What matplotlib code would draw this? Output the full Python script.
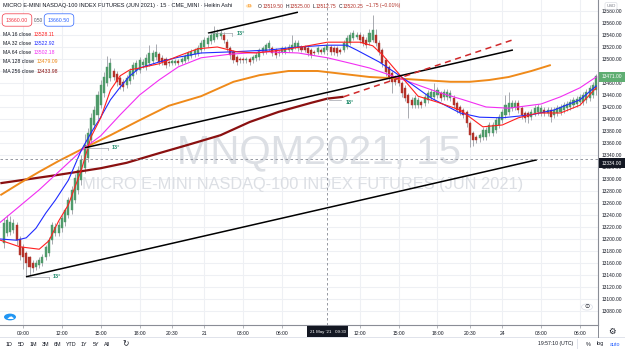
import matplotlib
matplotlib.use("Agg")
import matplotlib.pyplot as plt
from matplotlib.patches import Rectangle, Circle

plt.rcParams['font.family'] = ['Liberation Sans', 'DejaVu Sans']
FONT = ['Liberation Sans', 'DejaVu Sans']

# ---------------- data (Heikin Ashi candles, 15 min bars) ----------------
ha_open = [13193,13210,13212,13215,13223,13200,13187,13177,13170,13160,
           13153,13157,13160,13170,13177,13198,13210,13210,13218,13228,
           13240,13248,13265,13282,13298,13318,13335,13365,13390,13407,
           13423,13443,13460,13468,13480,13475,13468,13462,13457,13463,
           13472,13480,13482,13490,13487,13493,13497,13503,13508,13502,
           13500,13495,13494,13494,13496,13495,13497,13500,13505,13508,
           13510,13515,13520,13525,13530,13532,13537,13538,13540,13528,
           13518,13512,13503,13500,13500,13498,13500,13498,13501,13503,
           13510,13512,13518,13518,13515,13512,13512,13512,13515,13515,
           13520,13518,13520,13520,13518,13515,13512,13512,13515,13512,
           13515,13520,13518,13518,13515,13515,13520,13527,13535,13537,
           13540,13537,13532,13528,13532,13540,13527,13515,13498,13487,
           13477,13470,13470,13460,13452,13440,13432,13423,13423,13428,
           13427,13432,13437,13437,13440,13443,13437,13437,13435,13435,
           13427,13420,13415,13412,13393,13377,13370,13368,13370,13370,
           13377,13377,13382,13390,13398,13407,13412,13418,13420,13427,
           13418,13410,13410,13403,13410,13412,13410,13415,13410,13415,
           13407,13410,13412,13415,13418,13420,13423,13425,13428,13428,
           13432,13435,13440,13448]
ha_close = [13227,13232,13228,13227,13198,13173,13170,13160,13153,13152,
            13160,13165,13170,13187,13198,13223,13220,13223,13235,13248,
            13265,13282,13302,13315,13332,13357,13377,13402,13415,13440,
            13457,13470,13487,13493,13470,13462,13457,13453,13468,13480,
            13490,13493,13498,13495,13502,13510,13510,13512,13495,13495,
            13490,13493,13496,13497,13494,13500,13505,13510,13512,13515,
            13518,13527,13532,13535,13540,13543,13543,13543,13532,13518,
            13507,13498,13495,13498,13498,13500,13495,13503,13507,13515,
            13518,13523,13527,13510,13507,13510,13518,13518,13520,13523,
            13527,13527,13515,13515,13510,13507,13510,13518,13512,13518,
            13523,13512,13512,13510,13512,13527,13535,13540,13543,13540,
            13532,13527,13523,13543,13548,13527,13512,13493,13478,13470,
            13462,13462,13460,13443,13435,13427,13423,13435,13432,13423,
            13437,13443,13445,13445,13448,13435,13445,13445,13443,13423,
            13415,13412,13407,13393,13373,13365,13365,13373,13382,13382,
            13390,13390,13398,13403,13412,13423,13427,13427,13427,13415,
            13407,13402,13403,13412,13418,13420,13418,13410,13415,13403,
            13415,13418,13420,13423,13425,13428,13432,13433,13437,13440,
            13445,13452,13457,13471]
ha_high = [13235,13240,13238,13233,13228,13205,13192,13180,13172,13165,
           13165,13170,13175,13190,13203,13228,13226,13230,13240,13252,
           13270,13288,13308,13322,13340,13375,13385,13410,13422,13447,
           13465,13478,13505,13502,13485,13480,13472,13467,13473,13485,
           13495,13498,13503,13500,13508,13523,13515,13525,13512,13506,
           13504,13498,13500,13500,13500,13504,13509,13514,13516,13519,
           13523,13531,13537,13540,13545,13555,13550,13548,13545,13533,
           13522,13515,13506,13503,13503,13504,13504,13507,13511,13519,
           13522,13527,13531,13522,13518,13515,13522,13522,13525,13540,
           13532,13531,13524,13524,13522,13518,13515,13522,13519,13522,
           13527,13524,13522,13522,13518,13531,13540,13545,13548,13545,
           13545,13541,13536,13550,13573,13550,13532,13518,13502,13490,
           13480,13474,13474,13464,13456,13443,13436,13440,13437,13432,
           13442,13448,13450,13460,13453,13447,13450,13450,13448,13440,
           13430,13423,13418,13415,13396,13380,13373,13377,13387,13387,
           13395,13395,13403,13408,13417,13440,13445,13432,13432,13432,
           13422,13413,13413,13417,13423,13425,13423,13420,13420,13420,
           13420,13423,13425,13428,13430,13433,13437,13438,13442,13445,
           13450,13457,13462,13475]
ha_low = [13185,13205,13206,13210,13190,13165,13150,13137,13140,13145,
          13148,13152,13155,13165,13172,13192,13205,13205,13212,13222,
          13235,13242,13260,13275,13290,13310,13328,13358,13383,13400,
          13418,13437,13455,13463,13465,13455,13450,13447,13452,13458,
          13467,13475,13477,13485,13482,13488,13492,13498,13490,13490,
          13485,13488,13490,13490,13490,13491,13493,13496,13501,13504,
          13505,13510,13515,13520,13525,13528,13533,13534,13527,13513,
          13500,13493,13490,13494,13494,13494,13490,13494,13497,13499,
          13506,13508,13514,13505,13502,13505,13508,13508,13511,13511,
          13516,13514,13511,13511,13505,13502,13506,13508,13508,13508,
          13511,13507,13507,13505,13508,13511,13516,13523,13531,13533,
          13527,13522,13518,13524,13528,13522,13507,13487,13472,13463,
          13443,13457,13455,13437,13430,13402,13418,13418,13418,13418,
          13422,13427,13432,13432,13435,13430,13432,13432,13430,13418,
          13410,13407,13402,13387,13353,13355,13360,13362,13365,13365,
          13372,13372,13377,13385,13393,13402,13407,13413,13415,13410,
          13400,13395,13393,13398,13405,13407,13405,13405,13405,13395,
          13402,13405,13407,13410,13413,13415,13418,13420,13423,13423,
          13427,13430,13435,13440]

# moving averages (bar index, value)
ma16_x = [-1,5,11,14,17,20,24,27,30,33,36,39,42,48,54,60,66,72,78,86,94,100,105,110,114,117,121,125,128,134,141,144,148,154,159,165,172,178,183]
ma16_v = [13198,13187,13183,13197,13230,13257,13315,13370,13402,13448,13472,13482,13485,13492,13505,13517,13520,13512,13510,13515,13522,13528,13528,13528,13522,13507,13482,13457,13438,13428,13415,13403,13387,13390,13402,13410,13410,13423,13452]
ma32_x = [-1,4,7,10,13,16,20,24,27,30,33,36,39,42,48,54,61,71,82,91,100,106,109,116,121,125,132,141,147,154,163,170,178,183]
ma32_v = [13200,13198,13202,13218,13243,13265,13298,13348,13377,13403,13432,13453,13472,13485,13495,13503,13510,13512,13515,13520,13523,13523,13515,13495,13477,13462,13435,13410,13403,13402,13407,13415,13432,13455]
ma64_x = [-1,5,11,17,25,30,36,42,48,54,61,70,81,91,100,107,113,121,134,142,149,156,166,172,178,183]
ma64_v = [13228,13255,13282,13312,13352,13372,13407,13440,13465,13487,13502,13508,13512,13510,13502,13493,13485,13470,13445,13432,13420,13418,13425,13437,13452,13470]
ma128_x = [-1,5,11,17,25,33,42,51,61,71,79,88,97,105,113,120,129,138,144,150,156,163,169]
ma128_v = [13273,13293,13312,13330,13352,13373,13398,13422,13438,13462,13473,13480,13480,13475,13470,13468,13465,13462,13462,13465,13470,13480,13490]
ma256_x = [-1,17,30,38,48,57,67,76,85,95,100,105]
ma256_v = [13293,13307,13318,13327,13343,13357,13373,13395,13412,13427,13434,13437]

# drawn trend-angle lines ((bar, price) endpoints)
trend1 = ([63.1, 90.9], [13543, 13578])
trend2 = ([25.1, 157.3], [13352, 13515])
trend3 = ([6.9, 164.7], [13137, 13332])
trend_dash = ([105.0, 157.3], [13437, 13532])

time_ticks = [6, 18, 30, 42, 52, 62, 74, 86, 110, 122, 134, 144, 154, 166, 178]
time_labels = ["09:00", "12:00", "15:00", "18:00", "20:30", "21", "03:00", "06:00",
               "12:00", "15:00", "18:00", "20:30", "24", "03:00", "06:00"]
price_ticks = [13080, 13100, 13120, 13140, 13160, 13180, 13200, 13220, 13240, 13260,
               13280, 13300, 13320, 13340, 13360, 13380, 13400, 13420, 13440, 13460,
               13480, 13500, 13520, 13540, 13560, 13580]
hidden_price_labels = [13480]

ma_names = ["MA 16 close", "MA 32 close", "MA 64 close", "MA 128 close", "MA 256 close"]
ma_values = ["13528.11", "13522.92", "13502.18", "13479.09", "13433.98"]
ohlc_keys = ["O", "H", "L", "C"]
ohlc_vals = ["13519.50", "13525.00", "13512.75", "13520.25"]
ohlc_change = "−1.75 (−0.01%)"

# ---------------- styling ----------------
GREEN = '#4f9a6a'
RED = '#b3332a'
WICK = '#9a9ca3'
TXT = '#131722'
C16, C32, C64, C128, C256 = '#ff1f1f', '#1f2bff', '#f22ef2', '#ef8a1a', '#8a1010'

W, H = 625, 352
fig = plt.figure(figsize=(W / 100, H / 100), dpi=100)
fig.patch.set_facecolor('white')
renderer = fig.canvas.get_renderer()

def fx(x):
    return x / W

def fy(y):
    return 1 - y / H

def ftext(x, y, s, **kw):
    kw.setdefault('family', FONT)
    kw.setdefault('va', 'center')
    kw.setdefault('zorder', 21)
    return fig.text(fx(x), fy(y), s, **kw)

def right_px(t):
    bb = t.get_window_extent(renderer=renderer)
    return bb.x1

AX_R, AX_B = 598, 325
ax = fig.add_axes([0, 1 - AX_B / H, AX_R / W, AX_B / H])
BAR_X0, BAR_DX = 3.6, 3.238
ax.set_xlim((0 - BAR_X0) / BAR_DX, (AX_R - BAR_X0) / BAR_DX)
ax.set_ylim(13056.7, 13598.3)

# grid / axes
ax.set_axisbelow(True)
ax.set_xticks(time_ticks)
ax.set_xticklabels(time_labels)
ax.set_yticks(price_ticks)
ax.set_yticklabels(["" if p in hidden_price_labels else f"{p:.2f}" for p in price_ticks])
ax.grid(True, color='#eef0f4', lw=0.8)
ax.yaxis.tick_right()
ax.tick_params(axis='y', length=0, pad=2.4, labelsize=3.5, labelcolor=TXT)
ax.tick_params(axis='x', length=2, width=0.5, color='#9598a1', pad=2.3, labelsize=3.6, labelcolor=TXT)
for s in ['top', 'left']:
    ax.spines[s].set_visible(False)
for s in ['right', 'bottom']:
    ax.spines[s].set_color('#8a8d96')
    ax.spines[s].set_linewidth(0.8)

# watermark
ax.text(319 / AX_R, 1 - 152 / AX_B, "MNQM2021, 15", transform=ax.transAxes, fontsize=29,
        color='#dcdfe4', ha='center', va='center', zorder=1)
ax.text(303 / AX_R, 1 - 185 / AX_B, "MICRO E-MINI NASDAQ-100 INDEX FUTURES (JUN 2021)",
        transform=ax.transAxes, fontsize=11.8, color='#dcdfe4', ha='center', va='center', zorder=1)

# candles
n = len(ha_close)
xs = list(range(n))
ax.vlines(xs, ha_low, ha_high, color=WICK, lw=0.6, zorder=3)
bottoms = [min(o, c) for o, c in zip(ha_open, ha_close)]
heights = [abs(c - o) for o, c in zip(ha_open, ha_close)]
colors = [GREEN if c >= o else RED for o, c in zip(ha_open, ha_close)]
ax.bar(xs, heights, bottom=bottoms, width=0.64, color=colors, edgecolor=colors, lw=0.3, zorder=4)

# moving averages
ax.plot(ma256_x, ma256_v, color=C256, lw=1.6, zorder=5, solid_capstyle='butt')
ax.plot(ma128_x, ma128_v, color=C128, lw=1.4, zorder=5, solid_capstyle='butt')
ax.plot(ma64_x, ma64_v, color=C64, lw=0.8, zorder=5)
ax.plot(ma32_x, ma32_v, color=C32, lw=0.8, zorder=5)
ax.plot(ma16_x, ma16_v, color=C16, lw=0.8, zorder=5)

# trend angle drawings
for tx, ty in (trend1, trend2, trend3):
    ax.plot(tx, ty, color='black', lw=1.1, zorder=6, solid_capstyle='butt')
ax.plot(trend_dash[0], trend_dash[1], color='#d0282a', lw=1.1, ls=(0, (4, 3)), zorder=6)
ANG = '#1e8a6a'
for (bx, by, lab, ex) in [(trend1[0][0], trend1[1][0], "13°", 7.5),
                          (trend2[0][0], trend2[1][0], "13°", 7.0),
                          (trend3[0][0], trend3[1][0], "13°", 7.0)]:
    ax.plot([bx, bx + ex], [by, by], color='#a0a3ab', lw=0.5, zorder=6)
    ax.plot([bx + ex, bx + ex], [by, by - 4], color='#a0a3ab', lw=0.5, zorder=6)
    ax.text(bx + ex + 1.3, by, lab, color=ANG, fontsize=4.0, fontweight='bold', va='center', zorder=7)
ax.plot([100.5, 104.2], [13432, 13432], color='#a0a3ab', lw=0.5, zorder=6)
ax.text(105.8, 13427, "18°", color=ANG, fontsize=4.0, fontweight='bold', va='center', zorder=7)

# crosshair
ax.axvline(100, color='#858892', lw=0.6, ls=(0, (3, 3)), zorder=8)
ax.axhline(13334, color='#858892', lw=0.6, ls=(0, (3, 3)), zorder=8)

# ---------------- overlays (labels / boxes) ----------------
def box(x0, y0, x1, y1, fc, ec=None, lw=0):
    fig.add_artist(Rectangle((fx(x0), fy(y1)), (x1 - x0) / W, (y1 - y0) / H, transform=fig.transFigure,
                             fc=fc, ec=ec if ec else fc, lw=lw, zorder=20))

box(599, 72, 625, 82, '#5fae72')
ftext(611.5, 77, "13471.00", color='white', fontsize=3.5, ha='center')
box(599, 158, 625, 168, TXT)
ftext(611.5, 163, "13334.00", color='white', fontsize=3.5, ha='center')
box(307, 326, 348, 337, TXT)
ftext(327.5, 331.5, "21 May '21   09:30", color='white', fontsize=3.2, ha='center')
ftext(611, 6, "USD", color='#787b86', fontsize=3.2, ha='center',
      bbox=dict(boxstyle='round,pad=0.3', fc='white', ec='#d1d4dc', lw=0.4))

# title + OHLC
ftext(3, 6, "MICRO E-MINI NASDAQ-100 INDEX FUTURES (JUN 2021) · 15 · CME_MINI · Heikin Ashi",
      color=TXT, fontsize=4.05, ha='left')
fig.add_artist(Circle((fx(249), fy(6)), 3.2 / W, transform=fig.transFigure, fc='#ffe0b2', ec='none', zorder=20))
ftext(249, 6, "D", color='#f57c00', fontsize=3.2, ha='center')
xpos = 258
for k, v in zip(ohlc_keys, ohlc_vals):
    t = ftext(xpos, 6, k, color=TXT, fontsize=3.6, ha='left')
    t2 = ftext(right_px(t) + 0.3, 6, v, color=RED, fontsize=3.6, ha='left')
    xpos = right_px(t2) + 2.5
ftext(xpos, 6, ohlc_change, color=RED, fontsize=3.6, ha='left')

# bid / ask
ftext(17, 20, "13660.00", color='#f23645', fontsize=3.8, ha='center',
      bbox=dict(boxstyle='round,pad=0.7', fc='white', ec='#f23645', lw=0.5))
ftext(38.5, 20, "0.50", color='#50535e', fontsize=3.4, ha='center')
ftext(59, 20, "13660.50", color='#2962ff', fontsize=3.8, ha='center',
      bbox=dict(boxstyle='round,pad=0.7', fc='white', ec='#2962ff', lw=0.5))

# MA legend
ma_colors = [C16, C32, C64, C128, C256]
for j, (nm, val, col) in enumerate(zip(ma_names, ma_values, ma_colors)):
    yy = 34 + j * 9.3
    t = ftext(3, yy, nm, color=TXT, fontsize=3.7, ha='left')
    ftext(right_px(t) + 2.5, yy, val, color=col, fontsize=3.7, ha='left')

# bottom toolbar
for lab, xx in zip(["1D", "5D", "1M", "3M", "6M", "YTD", "1Y", "5Y", "All"],
                   [9, 21, 33, 46, 58, 71, 84, 96, 107]):
    ftext(xx, 344, lab, color=TXT, fontsize=3.9, ha='center')
fig.add_artist(Rectangle((fx(116.5), fy(349)), 0.5 / W, 10 / H, transform=fig.transFigure, fc='#e0e3eb', ec='none'))
ftext(126, 344, "↻", color=TXT, fontsize=5.5, ha='center', family='DejaVu Sans')
ftext(556, 344, "19:57:10 (UTC)", color=TXT, fontsize=3.7, ha='center')
fig.add_artist(Rectangle((fx(577), fy(349)), 0.5 / W, 10 / H, transform=fig.transFigure, fc='#e0e3eb', ec='none'))
ftext(588, 344, "%", color=TXT, fontsize=3.9, ha='center')
ftext(600, 344, "log", color=TXT, fontsize=3.9, ha='center')
ftext(615, 344, "auto", color='#2962ff', fontsize=3.9, ha='center')
fig.add_artist(Rectangle((0, fy(337.5)), 1, 0.5 / H, transform=fig.transFigure, fc='#e0e3eb', ec='none'))
fig.add_artist(Rectangle((fx(598), fy(337.5)), 0.8 / W, 12.5 / H, transform=fig.transFigure, fc='#8a8d96', ec='none'))
ftext(612, 331, "⚙", color=TXT, fontsize=6, ha='center', family='DejaVu Sans')

# small icons
fig.add_artist(Circle((fx(10), fy(317)), 6 / W, transform=fig.transFigure, fc='#2196f3', ec='none', zorder=20))
ftext(10, 317, "☁", color='white', fontsize=5, ha='center', family='DejaVu Sans')
fig.add_artist(Circle((fx(587), fy(307)), 5.5 / W, transform=fig.transFigure, fc='white', ec='#e0e3eb', lw=0.6, zorder=20))
ftext(587, 307, "⊙", color=TXT, fontsize=4.5, ha='center', family='DejaVu Sans')

fig.savefig("out.png", dpi=100, facecolor='white')
